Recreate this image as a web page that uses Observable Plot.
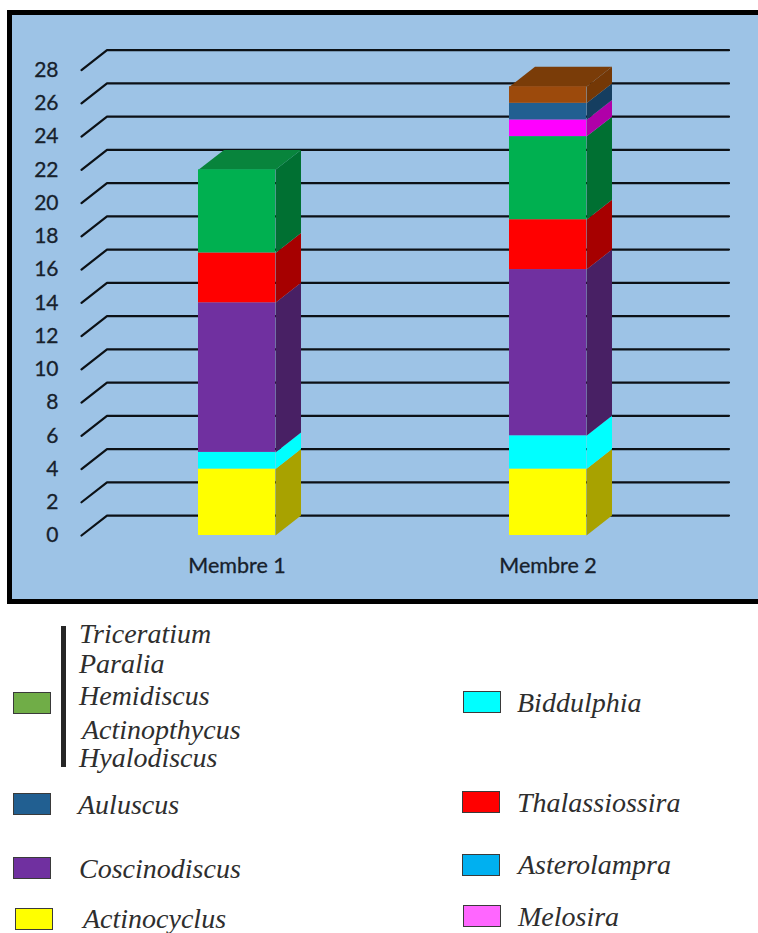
<!DOCTYPE html>
<html>
<head>
<meta charset="utf-8">
<script src="https://cdn.jsdelivr.net/npm/d3@7"></script>
<script src="https://cdn.jsdelivr.net/npm/@observablehq/plot@0.6"></script>
<style>
  html, body { margin: 0; padding: 0; background: #fff; }
  #page { position: relative; width: 758px; height: 933px; overflow: hidden; }
  #panel { position: absolute; left: 7px; top: 10px; width: 751px; height: 583.5px;
           background: #9dc3e6; border: solid #000; border-width: 5.5px 0 5.5px 5.5px; }
  #chart { position: absolute; left: 0; top: 0; }
  #chart svg { background: transparent; display: block; }
  .swatch { position: absolute; width: 36px; height: 20px; border: 1.5px solid #3a3a3a; }
  .name { position: absolute; font: italic 28px/1 "Liberation Serif", serif; color: #2e2e2e; white-space: nowrap; }
  #brace { position: absolute; left: 61px; top: 626px; width: 5px; height: 141px; background: #262626; }
</style>
</head>
<body>
<div id="page">
  <div id="panel"></div>
  <div id="chart"></div>
  <div id="brace"></div>
</div>
<script>
// Counts per sedimentary member, bottom of the stack first
const members = ["Membre 1", "Membre 2"];
const layers = ["Actinocyclus", "Biddulphia", "Coscinodiscus", "Thalassiossira", "Groupe", "Melosira", "Auluscus", "Autres"];
const actinocyclus = [4, 4];
const biddulphia = [1, 2];
const coscinodiscus = [9, 10];
const thalassiossira = [3, 3];
const groupe = [5, 5];
const melosira = [0, 1];
const auluscus = [0, 1];
const autres = [0, 1];
const layerValues = [actinocyclus, biddulphia, coscinodiscus, thalassiossira, groupe, melosira, auluscus, autres];

// Face colours of each layer
const frontColors = ["#ffff00", "#00ffff", "#7030a0", "#ff0000", "#00b050", "#ff00ff", "#215f91", "#9c4a0c"];
const sideColors = ["#a8a200", "#00ffff", "#482064", "#a60000", "#007032", "#b000a8", "#153e60", "#743806"];
const topColors = ["#c0c000", "#00d0d0", "#55257a", "#c00000", "#08843c", "#c000c0", "#1a4c74", "#7a3c08"];

const yTicks = d3.range(0, 29, 2);

// Fake perspective: how far the back of the box sits, in data units
const depthX = 0.082;
const depthY = 1.2;
const barHalf = 0.1238;
const floorStart = 0.5;
const floorEnd = 2.5;

// Stack the layers for each member
const fronts = [], sides = [], tops = [];
members.forEach((member, m) => {
  let base = 0, lastLayer = 0;
  const x1 = m + 1 - barHalf, x2 = m + 1 + barHalf;
  layers.forEach((layer, l) => {
    const v = layerValues[l][m];
    if (!v) return;
    const top = base + v;
    fronts.push({x1, x2, y1: base, y2: top, color: frontColors[l]});
    const id = member + layer;
    [[x2, base], [x2 + depthX, base + depthY], [x2 + depthX, top + depthY], [x2, top]]
      .forEach(([x, y]) => sides.push({id, x, y, color: sideColors[l]}));
    base = top;
    lastLayer = l;
  });
  [[x1, base], [x1 + depthX, base + depthY], [x2 + depthX, base + depthY], [x2, base]]
    .forEach(([x, y]) => tops.push({id: member, x, y, color: topColors[lastLayer]}));
});

// Grid: a short diagonal on the side wall, then a long line on the back wall
const grid = yTicks.flatMap(v => [
  {v, x: floorStart, y: v},
  {v, x: floorStart + depthX, y: v + depthY},
  {v, x: floorEnd + depthX, y: v + depthY}
]);

const faces = rows => Plot.line(rows, {
  x: "x", y: "y", z: "id", fill: "color", stroke: "none", curve: "linear-closed"
});

const labelFont = {fontFamily: "Lato, 'Open Sans', sans-serif", fill: "#17212c", stroke: "#17212c", strokeWidth: 0.3};

const chart = Plot.plot({
  width: 758,
  height: 605,
  margin: 0,
  x: {domain: [floorStart, floorEnd], range: [81, 703], axis: null},
  y: {domain: [0, 28], range: [535, 69.6], axis: null},
  color: {type: "identity"},
  marks: [
    Plot.line(grid, {x: "x", y: "y", z: "v", stroke: "#0c1116", strokeWidth: 2.2}),
    faces(sides),
    faces(tops),
    Plot.rect(fronts, {x1: "x1", x2: "x2", y1: "y1", y2: "y2", fill: "color"}),
    Plot.text(yTicks, {x: floorStart, y: d => d, dx: -23, textAnchor: "end", text: d => String(d), fontSize: 21, ...labelFont}),
    Plot.text(members, {x: (d, i) => i + 1, y: () => 0, dy: 31, text: d => d, fontSize: 21.5, letterSpacing: "0.4px", ...labelFont})
  ]
});
document.getElementById("chart").append(chart);

// Legend below the chart
const legendNames = ["Triceratium", "Paralia", "Hemidiscus", "Actinopthycus", "Hyalodiscus", "Auluscus", "Coscinodiscus", "Actinocyclus", "Biddulphia", "Thalassiossira", "Asterolampra", "Melosira"];
const nameLeft = [79, 79, 79, 82, 79, 78, 79, 83, 517, 517, 518, 518];
const nameBaseline = [643, 673, 705, 739, 767, 814, 878, 928, 712, 812, 874, 926];
const swatchColors = ["#70ad47", "#215f91", "#7030a0", "#ffff00", "#00ffff", "#ff0000", "#00b0f0", "#ff66ff"];
const swatchLeft = [13, 13, 13, 14.5, 463, 462, 462, 463];
const swatchTop = [692, 793, 857, 908, 691, 791, 854, 905];

const page = document.getElementById("page");
legendNames.forEach((name, i) => {
  const el = document.createElement("div");
  el.className = "name";
  el.textContent = name;
  el.style.left = nameLeft[i] + "px";
  el.style.top = (nameBaseline[i] - 23.5) + "px";
  page.append(el);
});
swatchColors.forEach((color, i) => {
  const el = document.createElement("div");
  el.className = "swatch";
  el.style.background = color;
  el.style.left = swatchLeft[i] + "px";
  el.style.top = swatchTop[i] + "px";
  page.append(el);
});
</script>
</body>
</html>
